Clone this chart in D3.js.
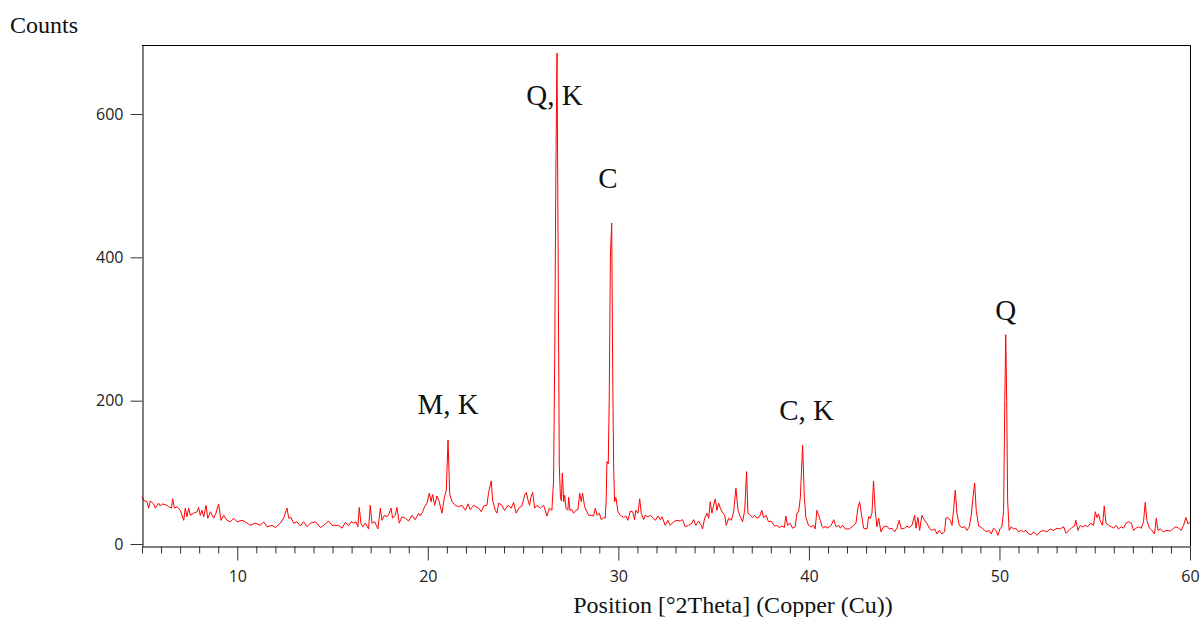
<!DOCTYPE html>
<html>
<head>
<meta charset="utf-8">
<script src="https://cdn.jsdelivr.net/npm/d3@7"></script>
<style>
  body { margin: 0; background: #fff; }
  svg { display: block; }
  .tick text { font-family: "Open Sans", "Noto Sans", sans-serif; font-size: 16px; fill: #222; }
  .serif { font-family: "Liberation Serif", "Times New Roman", serif; fill: #111; }
</style>
</head>
<body>
<svg id="chart" width="1204" height="617"></svg>
<script>
// 2theta positions (deg) and counts
var twoTheta = [
  5.00, 5.09, 5.26, 5.35, 5.44, 5.61, 5.70, 5.87, 5.96, 6.05, 6.31, 6.40, 6.54, 6.61, 6.70, 6.84,
  7.01, 7.19, 7.27, 7.36, 7.45, 7.54, 7.71, 7.89, 7.97, 8.06, 8.15, 8.24, 8.36, 8.45, 8.59, 8.76,
  8.88, 9.02, 9.15, 9.29, 9.46, 9.64, 9.81, 9.99, 10.25, 10.42, 10.68, 10.95, 11.21, 11.38, 11.56,
  11.82, 12.00, 12.26, 12.43, 12.61, 12.70, 12.82, 12.96, 13.13, 13.31, 13.48, 13.66, 13.83, 14.10,
  14.36, 14.53, 14.80, 14.97, 15.32, 15.50, 15.67, 15.85, 15.98,
  16.11, 16.23, 16.33, 16.40, 16.49, 16.58, 16.72, 16.89, 16.98, 17.07, 17.21, 17.38, 17.51, 17.59,
  17.72, 17.86, 17.98, 18.07, 18.15, 18.29, 18.38, 18.50, 18.64, 18.82, 18.99, 19.17, 19.34, 19.52,
  19.61, 19.73, 19.83, 19.96, 20.08, 20.17, 20.25, 20.36, 20.48, 20.60, 20.74, 20.87, 20.97, 21.06,
  21.15, 21.27, 21.44, 21.62, 21.79, 21.97, 22.11, 22.23, 22.40, 22.53, 22.67, 22.81, 22.93, 23.10,
  23.19, 23.33, 23.40, 23.54, 23.63, 23.72, 23.89, 24.03, 24.21, 24.38, 24.50, 24.64, 24.77, 24.94,
  25.08, 25.17, 25.26, 25.34, 25.41, 25.50, 25.61, 25.73, 25.90, 26.08, 26.25, 26.38, 26.51, 26.60,
  26.66, 26.72, 26.78, 26.84, 26.90, 26.96, 27.01, 27.06, 27.13, 27.18, 27.25, 27.35, 27.39, 27.46,
  27.56, 27.65, 27.77, 27.88, 27.97, 28.05, 28.12, 28.23, 28.35, 28.44, 28.58, 28.70, 28.79, 28.88,
  29.00, 29.10, 29.23, 29.31, 29.36, 29.40, 29.47, 29.52, 29.58, 29.65, 29.70, 29.75, 29.80, 29.87,
  29.98, 30.10, 30.28, 30.40, 30.50, 30.63, 30.75, 30.85, 30.92, 31.03, 31.12, 31.20, 31.33, 31.41,
  31.55, 31.68, 31.80, 31.94, 32.08, 32.20, 32.29, 32.46, 32.60, 32.72, 32.90, 33.07, 33.25, 33.37,
  33.51, 33.69, 33.86, 33.95, 34.07, 34.21, 34.35, 34.42, 34.53, 34.65, 34.74, 34.82, 34.91, 35.00,
  35.09, 35.17, 35.26, 35.35, 35.44, 35.58, 35.66, 35.79, 35.93, 36.05, 36.17, 36.28, 36.40, 36.52,
  36.63, 36.73, 36.80, 36.92, 37.05, 37.15, 37.27, 37.41, 37.53, 37.62, 37.75, 37.88, 38.02,
  38.20, 38.32, 38.44, 38.58, 38.71, 38.79, 38.88, 39.02, 39.14, 39.28, 39.37, 39.46, 39.55, 39.67,
  39.76, 39.84, 39.98, 40.12, 40.25, 40.33, 40.42, 40.51, 40.60, 40.68, 40.77, 40.86, 40.95, 41.07,
  41.17, 41.30, 41.42, 41.56, 41.65, 41.77, 41.91, 42.12, 42.35, 42.47, 42.57, 42.66, 42.75, 42.87,
  43.05, 43.13, 43.22, 43.31, 43.39, 43.48, 43.57, 43.66, 43.78, 43.92, 44.09, 44.22, 44.36, 44.50,
  44.62, 44.74, 44.85, 45.02, 45.14, 45.27, 45.41, 45.55, 45.62, 45.72, 45.81, 45.93, 46.05, 46.19,
  46.32, 46.46, 46.60, 46.72, 46.84, 46.98, 47.12, 47.19, 47.30, 47.42, 47.51, 47.59, 47.68, 47.77,
  47.89, 48.03, 48.17, 48.29, 48.42, 48.52, 48.61, 48.70, 48.78, 48.91, 49.05,
  49.22, 49.34, 49.46, 49.57, 49.69, 49.81, 49.92, 50.04, 50.13, 50.22, 50.28, 50.33, 50.38, 50.43,
  50.51, 50.62, 50.74, 50.86, 51.00, 51.14, 51.27, 51.39, 51.53, 51.67, 51.79, 51.97, 52.14, 52.32,
  52.49, 52.67, 52.84, 53.02, 53.19, 53.37, 53.49, 53.66, 53.80, 53.94, 54.01, 54.12, 54.24, 54.36,
  54.50, 54.64, 54.77, 54.94, 55.03, 55.11, 55.20, 55.29, 55.41, 55.50, 55.59, 55.73, 55.87, 55.99,
  56.11, 56.25, 56.39, 56.51, 56.64, 56.78, 56.92, 57.04, 57.16, 57.30, 57.44, 57.56, 57.65, 57.74,
  57.86, 58.00, 58.14, 58.23, 58.32, 58.44, 58.61, 58.79, 58.96, 59.14, 59.26, 59.40, 59.54, 59.66,
  59.79, 59.89, 60.00
];
var counts = [
  66, 61, 59, 50, 60, 56, 50, 57, 53, 56, 54, 52, 50, 63, 50, 52,
  47, 33, 50, 38, 50, 40, 43, 45, 51, 40, 47, 38, 54, 36, 45, 36,
  43, 56, 33, 40, 33, 31, 36, 31, 33, 31, 26, 29, 26, 31, 24,
  26, 23, 29, 36, 50, 36, 37, 29, 31, 25, 31, 24, 29, 31,
  23, 26, 32, 26, 26, 22, 30, 26, 31,
  29, 31, 24, 51, 29, 24, 29, 21, 54, 29, 31, 21, 50, 33,
  40, 38, 43, 50, 36, 40, 51, 29, 38, 36, 32, 40, 34, 43,
  39, 45, 52, 57, 71, 59, 69, 54, 67, 59, 43, 65, 75, 145,
  70, 59, 54, 52, 54, 47, 56, 48, 54, 52, 50, 45, 53, 54,
  72, 88, 61, 47, 43, 57, 54, 47, 54, 50, 58, 43, 50, 53,
  68, 72, 61, 54, 65, 72, 50, 54, 50, 54, 39, 50, 47, 88,
  260, 520, 685, 400, 110, 65, 60, 99, 59, 68, 50, 47, 65, 47,
  48, 43, 47, 48, 71, 59, 71, 52, 45, 40, 40, 39, 50, 40,
  43, 34, 37, 36, 60, 115, 112, 200, 400, 448, 250, 112, 59, 65,
  45, 40, 37, 39, 33, 46, 45, 34, 47, 43, 63, 43, 34, 40,
  38, 40, 37, 33, 39, 34, 38, 26, 33, 26, 31, 33, 32, 34,
  24, 26, 29, 34, 26, 32, 26, 21, 36, 43, 36, 59, 43, 54,
  63, 47, 57, 50, 45, 40, 26, 36, 33, 45, 78, 47, 38, 31,
  47, 101, 43, 40, 37, 40, 36, 38, 47, 37, 40, 31, 32,
  25, 26, 23, 25, 23, 39, 26, 29, 22, 24, 43, 45, 65, 138,
  65, 37, 26, 24, 26, 21, 47, 40, 33, 25, 22, 25, 22, 24,
  26, 34, 24, 26, 22, 26, 21, 21, 26, 29, 50, 59, 43, 22,
  21, 38, 36, 43, 88, 47, 24, 36, 17, 24, 25, 21, 22, 17,
  22, 33, 21, 22, 25, 23, 26, 40, 22, 37, 19, 40, 34, 29,
  22, 19, 21, 14, 19, 14, 17, 36, 37, 33, 26, 47, 75, 43,
  26, 23, 24, 19, 24, 40, 65, 85, 47, 25, 23,
  19, 17, 19, 14, 22, 19, 12, 22, 24, 47, 200, 292, 200, 60,
  19, 24, 21, 22, 17, 19, 17, 19, 14, 13, 17, 12, 17, 19,
  17, 21, 19, 22, 21, 24, 15, 19, 23, 25, 33, 19, 26, 24,
  26, 24, 29, 26, 45, 37, 42, 32, 26, 53, 29, 26, 24, 22,
  26, 21, 24, 22, 29, 31, 29, 19, 22, 24, 22, 31, 58, 33,
  23, 19, 14, 36, 19, 21, 17, 19, 18, 22, 24, 22, 19, 26,
  37, 28, 31
];

var xTicks = [10, 20, 30, 40, 50, 60];
var yTicks = [0, 200, 400, 600];

// phase labels: text, 2theta of the label centre, counts of the label baseline
var peakLabels = ["M, K", "Q, K", "C", "C, K", "Q"];
var labelTheta = [21.06, 26.65, 29.45, 39.88, 50.33];
var labelCounts = [181, 612, 497, 173, 312];

var svg = d3.select("#chart");
var plotLeft = 142, plotRight = 1190, plotTop = 45, plotBottom = 546;

var x = d3.scaleLinear().domain([5, 60]).range([plotLeft, plotRight]);
var y = d3.scaleLinear().domain([-2.8, 696.3]).range([plotBottom, plotTop]);

var pts = twoTheta.map(function(d, i) { return [d, counts[i]]; });

// frame
svg.append("line").attr("x1", plotLeft).attr("x2", plotRight)
  .attr("y1", plotTop + 0.5).attr("y2", plotTop + 0.5)
  .attr("stroke", "#000");
svg.append("line").attr("x1", plotRight + 0.5).attr("x2", plotRight + 0.5)
  .attr("y1", plotTop).attr("y2", plotBottom)
  .attr("stroke", "#000");

var line = d3.line()
  .x(function(d) { return x(d[0]); })
  .y(function(d) { return y(d[1]); });

svg.append("path")
  .datum(pts)
  .attr("fill", "none")
  .attr("stroke", "#ff0000")
  .attr("stroke-width", 1)
  .attr("stroke-linejoin", "round")
  .attr("d", line);

// y axis
var yAxis = svg.append("g")
  .attr("transform", "translate(" + (plotLeft + 0.5) + ",0)")
  .call(d3.axisLeft(y).tickValues(yTicks).tickSize(12).tickPadding(7).tickSizeOuter(0));
yAxis.select(".domain").attr("stroke", "#000");
yAxis.selectAll(".tick line").attr("stroke", "#333");

// x axis, minor ticks every degree
var minor = d3.range(5, 61, 1).filter(function(d) { return d % 10 != 0; });
svg.append("g")
  .attr("transform", "translate(0," + (plotBottom + 0.5) + ")")
  .call(d3.axisBottom(x).tickValues(minor).tickSize(7).tickFormat("").tickSizeOuter(0))
  .call(function(g) { g.select(".domain").remove(); })
  .selectAll(".tick line").attr("stroke", "#333");

var xAxis = svg.append("g")
  .attr("transform", "translate(0," + (plotBottom + 0.5) + ")")
  .call(d3.axisBottom(x).tickValues(xTicks).tickSize(14).tickPadding(10).tickSizeOuter(0));
xAxis.select(".domain").attr("stroke", "#000");
xAxis.selectAll(".tick line").attr("stroke", "#333");

// titles
svg.append("text").attr("class", "serif")
  .attr("x", 10).attr("y", 33)
  .attr("font-size", 24)
  .text("Counts");

svg.append("text").attr("class", "serif")
  .attr("x", 733).attr("y", 613)
  .attr("text-anchor", "middle")
  .attr("font-size", 24)
  .text("Position [°2Theta] (Copper (Cu))");

svg.selectAll(".peak")
  .data(peakLabels)
  .enter().append("text")
  .attr("class", "serif peak")
  .attr("x", function(d, i) { return x(labelTheta[i]); })
  .attr("y", function(d, i) { return y(labelCounts[i]); })
  .attr("text-anchor", "middle")
  .attr("font-size", 29)
  .text(function(d) { return d; });
</script>
</body>
</html>
